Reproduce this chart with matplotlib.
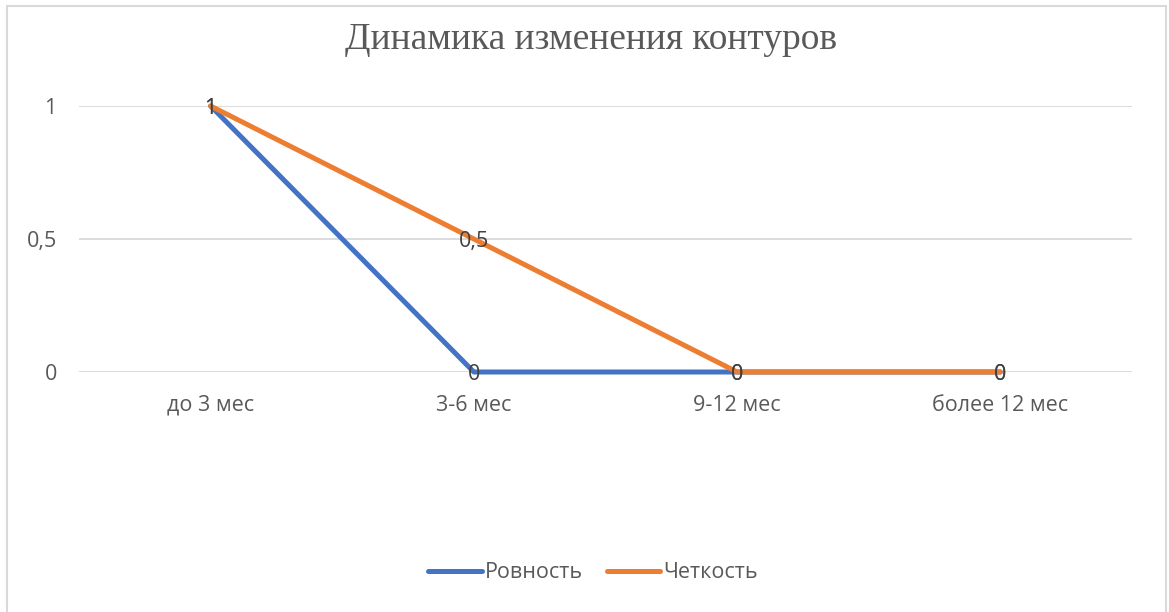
import matplotlib
matplotlib.use("Agg")
import matplotlib.pyplot as plt
from matplotlib.ticker import FuncFormatter
from matplotlib.patches import Rectangle

categories = ["до 3 мес", "3-6 мес", "9-12 мес", "более 12 мес"]
rovnost = [1, 0, 0, 0]
chetkost = [1, 0.5, 0, 0]
series_names = ["Ровность", "Четкость"]
yticks = [0, 0.5, 1]

plt.rcParams['font.family'] = ['Open Sans', 'DejaVu Sans']

fig = plt.figure(figsize=(11.69, 6.12), dpi=100)
ax = fig.add_axes([79/1169, 1-372/612, (1132-79)/1169, (372-106)/612])

def fmt(v):
    s = ("%g" % v).replace(".", ",")
    return s

x = list(range(len(categories)))
l1, = ax.plot(x, rovnost, color="#4472C4", lw=3.6, solid_capstyle="round", zorder=3)
l2, = ax.plot(x, chetkost, color="#ED7D31", lw=3.6, solid_capstyle="round", zorder=4)

for xs, ys in [(x, rovnost), (x, chetkost)]:
    for xi, yi in zip(xs, ys):
        ax.annotate(fmt(yi), (xi, yi), xytext=(0, -2), textcoords="offset points",
                    ha="center", va="center", fontsize=15.5,
                    color="#404040", zorder=5)

ax.set_xlim(-0.5, len(categories) - 0.5)
ax.set_ylim(0, 1)
ax.set_yticks(yticks)
ax.yaxis.set_major_formatter(FuncFormatter(lambda v, p: fmt(v)))
ax.set_xticks(x)
ax.set_xticklabels(categories)
ax.tick_params(axis="both", length=0, labelsize=15.5, labelcolor="#595959")
ax.tick_params(axis="y", pad=16)
ax.tick_params(axis="x", pad=16.5)
ax.grid(axis="y", color="#D9D9D9", lw=1.3)
ax.set_axisbelow(True)
for s in ax.spines.values():
    s.set_visible(False)
for ln in ax.lines:
    ln.set_clip_on(False)

fig.text(591/1169, 1-40/612, "Динамика изменения контуров", ha="center", va="center",
         fontsize=27, family="Liberation Serif", color="#595959")

fig.legend([l1, l2], series_names, loc="center", bbox_to_anchor=(593/1169, 1-573/612),
           ncol=2, frameon=False, fontsize=15.5, labelcolor="#595959",
           handlelength=2.5, handletextpad=0.15, columnspacing=1.1)

fig.patches.append(Rectangle((7/1169, -0.01), (1166-7)/1169, 1 - 6/612 + 0.01,
                             transform=fig.transFigure, fill=False,
                             edgecolor="#D9D9D9", lw=1.5))

fig.savefig("out.png", dpi=100)
